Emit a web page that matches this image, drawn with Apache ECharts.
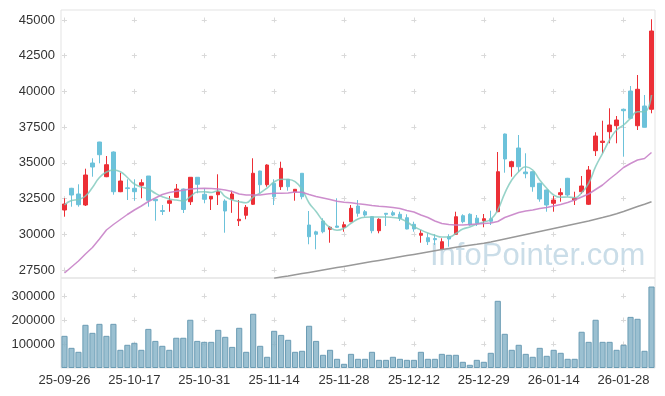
<!DOCTYPE html>
<html><head><meta charset="utf-8">
<script src="https://cdn.jsdelivr.net/npm/echarts@6/dist/echarts.min.js"></script>
<style>html,body{margin:0;padding:0;background:#fff}#c{width:665px;height:396px}</style>
</head><body><div id="c"></div>
<script>
const dates = [
"25-09-26","25-09-29","25-09-30","25-10-01","25-10-02","25-10-10","25-10-13","25-10-14","25-10-15","25-10-16",
"25-10-17","25-10-20","25-10-21","25-10-22","25-10-23","25-10-24","25-10-27","25-10-28","25-10-29","25-10-30",
"25-10-31","25-11-03","25-11-04","25-11-05","25-11-06","25-11-07","25-11-10","25-11-11","25-11-12","25-11-13",
"25-11-14","25-11-17","25-11-18","25-11-19","25-11-20","25-11-21","25-11-24","25-11-25","25-11-26","25-11-27",
"25-11-28","25-12-01","25-12-02","25-12-03","25-12-04","25-12-05","25-12-08","25-12-09","25-12-10","25-12-11",
"25-12-12","25-12-15","25-12-16","25-12-17","25-12-18","25-12-19","25-12-22","25-12-23","25-12-24","25-12-26",
"25-12-29","25-12-30","26-01-02","26-01-05","26-01-06","26-01-07","26-01-08","26-01-09","26-01-12","26-01-13",
"26-01-14","26-01-15","26-01-16","26-01-19","26-01-20","26-01-21","26-01-22","26-01-23","26-01-26","26-01-27",
"26-01-28","26-01-29","26-01-30","26-02-02","26-02-03"];

// [open, close, low, high]
const ohlc = [
[31700,32120,31230,32520],[33220,32750,31930,33250],[32820,32070,31930,33500],[32050,34150,31980,34590],[34990,34710,34030,35320],
[36460,35570,34970,36470],[34030,34870,34000,35480],[35760,32980,32770,35800],[32980,33730,32950,34310],[33250,33200,32400,33850],
[33220,32980,32350,33850],[33430,33610,32520,33850],[34080,32380,31930,34080],[32450,32350,30950,32470],[31660,31600,31350,32050],
[32170,32350,31580,32680],[32590,33170,32550,33520],[33170,31735,31490,33200],[32280,33990,32050,34000],[33990,33500,32870,34000],
[32800,32450,32170,33220],[32470,32660,31700,32680],[32770,32980,32050,34200],[32330,31630,30110,32450],[32450,32820,31500,33050],
[30950,31050,30580,32400],[31330,31890,31050,32050],[32100,34270,32050,35320],[34430,33470,32870,34450],[33470,34850,33330,34900],
[33570,32630,32050,33850],[33330,34620,33100,35080],[33850,33330,33050,33870],[32960,33150,32350,33170],[34270,32630,32450,34270],
[30650,29830,29300,31630],[30170,30000,28950,30250],[30930,30180,30070,31120],[30350,30490,29410,30580],[30580,30490,30450,32520],
[30490,30670,30180,30880],[30880,31820,30850,32050],[31980,31470,31230,32400],[31580,31350,31230,31700],[31230,30250,30070,31250],
[30250,31050,30070,31120],[31470,31400,30580,31480],[31510,31350,31280,31650],[31400,31120,30930,31580],[31160,30370,30350,31400],
[30700,30370,30180,30880],[29930,30070,29410,30300],[29760,29480,29250,30070],[29700,29620,29250,30000],[28950,29480,28930,29720],
[29830,29670,29130,30000],[30000,31230,29950,31580],[31300,30880,30770,31400],[31400,30650,30600,31470],[31130,30770,30580,31350],
[30950,31090,30490,31420],[31090,30910,30650,31650],[31580,34380,31550,35760],[37020,35270,34310,37050],[34730,35080,34030,35150],
[36040,34730,34380,36950],[34360,34240,33920,35670],[34380,33330,32980,34400],[33570,32470,32280,33600],[33100,32050,31580,33120],
[32170,32400,31580,32680],[32770,32910,32280,33220],[33920,32750,32630,33950],[32400,32520,32050,32980],[32980,33380,32820,34080],
[32100,34500,32050,34780],[35850,36880,35480,37140],[36430,36520,35670,37950],[37180,37650,36370,38820],[37600,38000,36370,38280],
[38750,38650,35430,38800],[40030,38120,38100,40380],[37600,40150,37300,41150],[38980,37490,37480,39750],[38750,44230,38470,45050]];

const ma5 = [32050,32365,32435,32680,33275,33975,34360,34500,34381,33975,
33520,33310,33170,32869,32631,32470,32400,32330,32631,32960,
32981,32925,33051,32631,32400,32281,32211,32610,32890,33240,
33660,33849,33835,33681,33135,32190,31595,30930,30475,30279,
30419,30769,31070,31189,31210,31210,31210,31175,31105,30860,
30545,30300,30090,29929,29810,29810,30055,30370,30510,30720,
30860,31049,31700,32869,33800,34381,34731,34500,33800,33219,
32750,32589,32610,32561,32911,33569,34731,35669,36600,37300,
37650,38119,38581,38581,39750];

const ma20 = [27290,27710,28130,28620,29075,29670,30300,30685,31035,31385,
31700,31980,32295,32540,32785,32925,33016,33079,33170,33205,
33219,33205,33170,33100,32995,32820,32750,32750,32750,32820,
32869,32869,32890,32960,32939,32785,32645,32540,32435,32309,
32246,32204,32134,32092,32015,31966,31931,31875,31805,31665,
31560,31350,31175,30930,30755,30685,30650,30650,30685,30720,
30755,30790,30895,31175,31350,31525,31630,31700,31805,31875,
31980,32085,32225,32400,32610,32820,33135,33450,33870,34255,
34675,34955,35200,35305,35725];

const ma60 = ['-','-','-','-','-','-','-','-','-','-',
'-','-','-','-','-','-','-','-','-','-',
'-','-','-','-','-','-','-','-','-','-',
26919,27003,27080,27164,27248,27332,27416,27500,27584,27668,
27752,27836,27920,28004,28088,28172,28256,28340,28424,28508,
28592,28676,28760,28844,28928,29012,29089,29159,29229,29299,
29376,29460,29565,29670,29775,29880,29985,30090,30195,30300,
30405,30510,30615,30720,30825,30930,31049,31168,31294,31434,
31595,31770,31945,32106,32281];

const volumes = [134000,84000,67500,180000,146500,184000,134000,184000,75800,96700,
105000,75800,163000,113000,92500,75800,126000,126000,201000,113000,
109000,109000,159000,130000,88000,167500,67500,226000,92500,46700,
155000,138000,117500,67500,71700,176000,113000,55000,75800,38300,
17500,59000,38300,38300,67500,34000,34000,46700,38300,34000,
34000,67500,38300,38300,59000,55000,55000,25800,13300,34000,
25800,63300,280000,142500,75800,96700,59000,46700,84000,50800,
75800,63300,38300,38300,151000,109000,201000,109000,109000,75800,
96700,213000,205000,71700,339500];

const priceTicks = [27500,30000,32500,35000,37500,40000,42500,45000];
const volumeTicks = [100000,200000,300000];
const watermark = 'InfoPointer.com';

const PMIN = 26940, PMAX = 45700, VMAX = 375000;
const G1 = {left:61, top:10, width:594, height:268};
const G2 = {left:61, top:278, width:594, height:90};
const FONT = 'Liberation Sans';
const CROSS = 5;
const GRIDC = '#d9d9d9';
const plain = v => String(v);

// dash patterns so split lines show as small crosses at intersections
const band = G1.width / dates.length;
const xPeriod = band * 10;
const xFirst = band * 0.5 - CROSS / 2;
const hDash = {type:[CROSS, xPeriod - CROSS], dashOffset: xPeriod - xFirst, color: GRIDC, width: 1};
const pPeriod = 2500 * G1.height / (PMAX - PMIN);
const pFirst = (PMAX - 45000) * G1.height / (PMAX - PMIN) - CROSS / 2;
const vDash1 = {type:[CROSS, pPeriod - CROSS], dashOffset: pPeriod - pFirst, color: GRIDC, width: 1};
const vPeriod = 100000 * G2.height / VMAX;
const vFirst = (VMAX - 300000) * G2.height / VMAX - CROSS / 2;
const vDash2 = {type:[CROSS, vPeriod - CROSS], dashOffset: vPeriod - vFirst, color: GRIDC, width: 1};

const chart = echarts.init(document.getElementById('c'), null, {renderer:'canvas'});
chart.setOption({
  animation: false,
  backgroundColor: '#fff',
  grid: [
    Object.assign({show:true, borderColor:'#e3e3e3', borderWidth:1}, G1),
    Object.assign({show:true, borderColor:'#e3e3e3', borderWidth:1}, G2)
  ],
  xAxis: [
    {type:'category', gridIndex:0, data:dates, boundaryGap:true,
     axisLine:{show:false}, axisTick:{show:false, interval:9, alignWithLabel:true}, axisLabel:{show:false, interval:9},
     splitLine:{show:true, interval:9, alignWithLabel:true, lineStyle:vDash1}},
    {type:'category', gridIndex:1, data:dates, boundaryGap:true,
     axisLine:{show:false}, axisTick:{show:false, interval:9, alignWithLabel:true},
     axisLabel:{interval:9, color:'#333', fontSize:13, fontFamily:FONT, margin:6},
     splitLine:{show:true, interval:9, alignWithLabel:true, lineStyle:vDash2}}
  ],
  yAxis: [
    {type:'value', gridIndex:0, min:PMIN, max:PMAX, scale:true,
     axisLine:{show:false}, axisTick:{show:false, customValues:priceTicks},
     axisLabel:{customValues:priceTicks, formatter:plain, color:'#333', fontSize:13, fontFamily:FONT, margin:6},
     splitLine:{show:true, lineStyle:hDash}},
    {type:'value', gridIndex:1, min:0, max:VMAX,
     axisLine:{show:false}, axisTick:{show:false, customValues:volumeTicks},
     axisLabel:{customValues:volumeTicks, formatter:plain, color:'#333', fontSize:13, fontFamily:FONT, margin:6},
     splitLine:{show:true, lineStyle:hDash}}
  ],
  graphic: [{type:'text', left:430, top:241, z:-10, silent:true,
    style:{text:watermark, font:'31px "Liberation Sans"', fill:'#cadde8'}}],
  series: [
    {type:'candlestick', name:'price', xAxisIndex:0, yAxisIndex:0, data:ohlc, barWidth:4,
     itemStyle:{color:'#ec2f36', color0:'#6cc2da', borderColor:'#ec2f36', borderColor0:'#6cc2da', borderWidth:1}},
    {type:'line', name:'MA5', xAxisIndex:0, yAxisIndex:0, data:ma5, smooth:true, symbol:'none',
     lineStyle:{color:'rgba(125,200,188,0.8)', width:1.6}},
    {type:'line', name:'MA20', xAxisIndex:0, yAxisIndex:0, data:ma20, symbol:'none',
     lineStyle:{color:'rgba(200,130,200,0.9)', width:1.5}},
    {type:'line', name:'MA60', xAxisIndex:0, yAxisIndex:0, data:ma60, symbol:'none',
     lineStyle:{color:'#999999', width:1.5}},
    {type:'bar', name:'volume', xAxisIndex:1, yAxisIndex:1, data:volumes, barCategoryGap:'12%',
     itemStyle:{color:'rgba(130,176,198,0.8)', borderColor:'#6b9cb4', borderWidth:1}}
  ]
});
</script>
</body></html>
